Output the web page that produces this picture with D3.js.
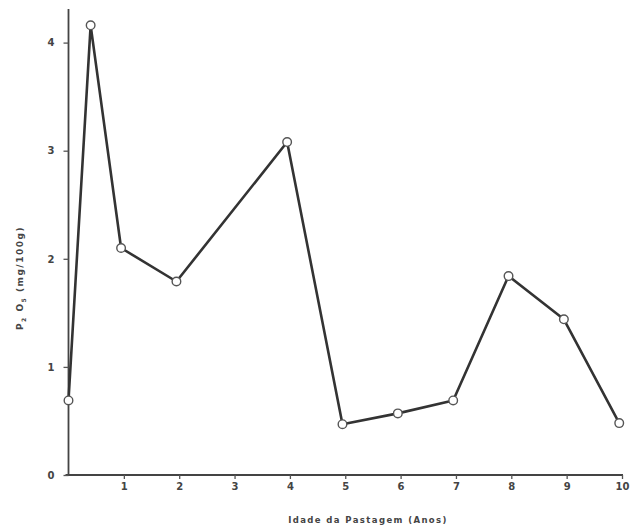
<!DOCTYPE html>
<html>
<head>
<meta charset="utf-8">
<script src="https://d3js.org/d3.v7.min.js"></script>
<style>
  body { margin: 0; background: #fff; }
  text { font-family: "DejaVu Sans", sans-serif; fill: #333; }
</style>
</head>
<body>
<script>

// idade da pastagem (anos) e teor de P2O5 (mg/100g)
var idade = [0, 0.4, 0.95, 1.95, 3.95, 4.95, 5.95, 6.95, 7.95, 8.95, 9.95]
var p2o5  = [0.69, 4.16, 2.10, 1.79, 3.08, 0.47, 0.57, 0.69, 1.84, 1.44, 0.48]

var xTicks = [1, 2, 3, 4, 5, 6, 7, 8, 9, 10]
var yTicks = [0, 1, 2, 3, 4]

window.onload = function() {
	Draw_Chart()
}

function Draw_Chart() {

	var width = 636, height = 532

	var svg = d3.select("body").append("svg")
		.attr("width", width)
		.attr("height", height)

	var x = d3.scaleLinear().domain([0, 10]).range([68.5, 622])
	var y = d3.scaleLinear().domain([0, 4]).range([475, 42.6])

	//AXIS LINES
	svg.append("line")
		.attr("x1", x(0)).attr("x2", x(0))
		.attr("y1", 9).attr("y2", y(0))
		.style("stroke", "#444").style("stroke-width", 1.8)

	svg.append("line")
		.attr("x1", x(0) - 3).attr("x2", x(10) + 1)
		.attr("y1", y(0)).attr("y2", y(0))
		.style("stroke", "#444").style("stroke-width", 1.8)

	//X TICKS
	var xAxis = d3.axisBottom(x).tickValues(xTicks).tickSize(4).tickPadding(4)
		.tickFormat(d3.format("d"))
	var gx = svg.append("g")
		.attr("transform", "translate(0," + y(0) + ")")
		.call(xAxis)
	gx.select(".domain").remove()
	gx.selectAll(".tick line").style("stroke", "#555").style("stroke-width", 1.3)
	gx.selectAll("text").style("font-size", "10px").style("font-weight", "bold").style("fill", "#444")

	//Y TICKS
	var yAxis = d3.axisLeft(y).tickValues(yTicks).tickSize(5).tickPadding(9)
		.tickFormat(d3.format("d"))
	var gy = svg.append("g")
		.attr("transform", "translate(" + x(0) + ",0)")
		.call(yAxis)
	gy.select(".domain").remove()
	gy.selectAll(".tick line").style("stroke", "#555").style("stroke-width", 1.3)
	gy.selectAll("text").style("font-size", "10px").style("font-weight", "bold").style("fill", "#444")

	//DATA LINE
	var points = idade.map(function(d, i) { return [d, p2o5[i]] })

	var line = d3.line()
		.x(function(d) { return x(d[0]) })
		.y(function(d) { return y(d[1]) })

	svg.append("path")
		.datum(points)
		.attr("d", line)
		.style("fill", "none")
		.style("stroke", "#333")
		.style("stroke-width", 2.6)
		.style("stroke-linejoin", "round")

	svg.selectAll("circle")
		.data(points)
		.enter()
		.append("circle")
		.attr("cx", function(d) { return x(d[0]) })
		.attr("cy", function(d) { return y(d[1]) })
		.attr("r", 4.3)
		.style("fill", "#fff")
		.style("stroke", "#555")
		.style("stroke-width", 1.4)

	//AXIS TITLES
	svg.append("text")
		.attr("x", 368)
		.attr("y", 523)
		.attr("text-anchor", "middle")
		.style("font-size", "8.5px")
		.style("font-weight", "bold")
		.style("letter-spacing", "1.4px")
		.style("fill", "#444")
		.text("Idade da Pastagem  (Anos)")

	var yl = svg.append("text")
		.attr("transform", "translate(23,278) rotate(-90)")
		.attr("text-anchor", "middle")
		.style("font-size", "9px")
		.style("font-weight", "bold")
		.style("letter-spacing", "1.5px")
		.style("fill", "#444")
	yl.append("tspan").text("P")
	yl.append("tspan").attr("dy", 3).style("font-size", "6px").text("2")
	yl.append("tspan").attr("dy", -3).text(" O")
	yl.append("tspan").attr("dy", 3).style("font-size", "6px").text("5")
	yl.append("tspan").attr("dy", -3).text("     (mg/100g)")
}
</script>
</body>
</html>
